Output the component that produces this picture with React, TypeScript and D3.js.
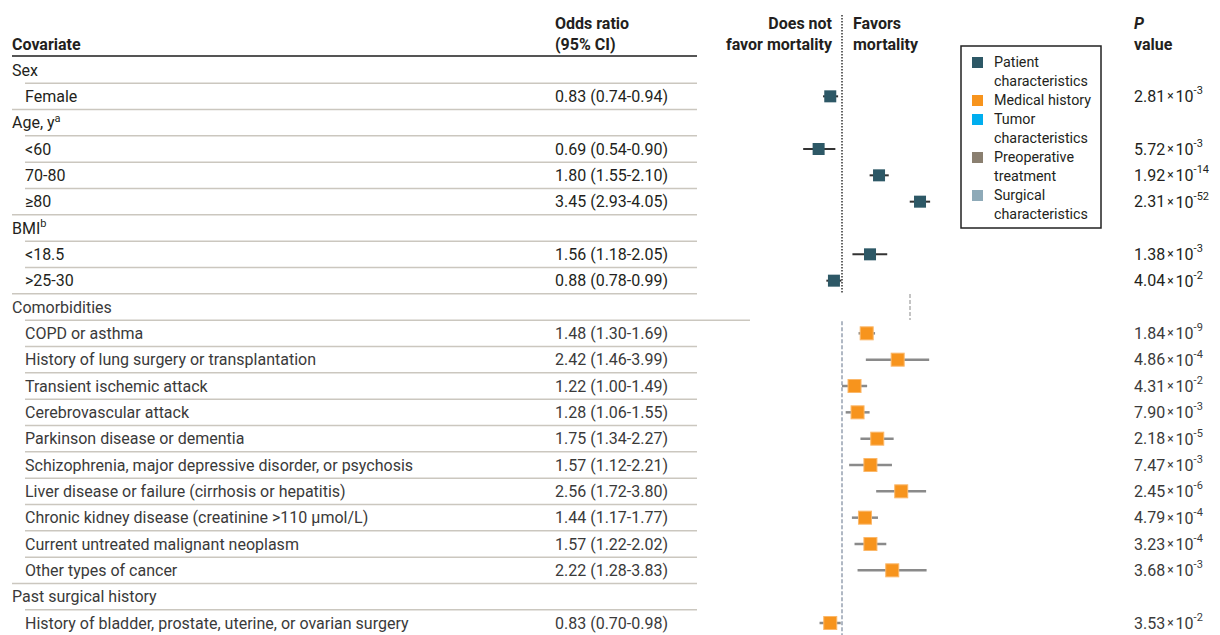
import React from "react";
import * as d3 from "d3";

const W = 1220;
const H = 635;

// ---- data ----
const rowLabels = [
  "Sex", "Female", "Age, y", "<60", "70-80", "≥80", "BMI", "<18.5", ">25-30",
  "Comorbidities", "COPD or asthma", "History of lung surgery or transplantation",
  "Transient ischemic attack", "Cerebrovascular attack", "Parkinson disease or dementia",
  "Schizophrenia, major depressive disorder, or psychosis",
  "Liver disease or failure (cirrhosis or hepatitis)",
  "Chronic kidney disease (creatinine >110 μmol/L)",
  "Current untreated malignant neoplasm", "Other types of cancer",
  "Past surgical history", "History of bladder, prostate, uterine, or ovarian surgery",
];
const rowSup = ["", "", "a", "", "", "", "b", "", "", "", "", "", "", "", "", "", "", "", "", "", "", ""];
const isChild = [false, true, false, true, true, true, false, true, true, false, true, true, true, true, true, true, true, true, true, true, false, true];
const oddsRatio = [null, 0.83, null, 0.69, 1.80, 3.45, null, 1.56, 0.88, null, 1.48, 2.42, 1.22, 1.28, 1.75, 1.57, 2.56, 1.44, 1.57, 2.22, null, 0.83];
const ciLow = [null, 0.74, null, 0.54, 1.55, 2.93, null, 1.18, 0.78, null, 1.30, 1.46, 1.00, 1.06, 1.34, 1.12, 1.72, 1.17, 1.22, 1.28, null, 0.70];
const ciHigh = [null, 0.94, null, 0.90, 2.10, 4.05, null, 2.05, 0.99, null, 1.69, 3.99, 1.49, 1.55, 2.27, 2.21, 3.80, 1.77, 2.02, 3.83, null, 0.98];
const pMantissa = [null, "2.81", null, "5.72", "1.92", "2.31", null, "1.38", "4.04", null, "1.84", "4.86", "4.31", "7.90", "2.18", "7.47", "2.45", "4.79", "3.23", "3.68", null, "3.53"];
const pExponent = [null, "-3", null, "-3", "-14", "-52", null, "-3", "-2", null, "-9", "-4", "-2", "-3", "-5", "-3", "-6", "-4", "-4", "-3", null, "-2"];
// 0 = patient characteristics, 1 = medical history
const rowCategory = [0, 0, 0, 0, 0, 0, 0, 0, 0, 1, 1, 1, 1, 1, 1, 1, 1, 1, 1, 1, 1, 1];

const legendLabels = [
  ["Patient", "characteristics"],
  ["Medical history"],
  ["Tumor", "characteristics"],
  ["Preoperative", "treatment"],
  ["Surgical", "characteristics"],
];
const legendColors = ["#2d5866", "#f7941d", "#00aeef", "#8a7f70", "#8eaab8"];

const fmt = d3.format(".2f");

export default function App() {
  const font = "Roboto, 'DejaVu Sans', sans-serif";
  const fs = 16;
  const x = d3.scaleLog().domain([0.5, 4.5]).range([842 + 63 * Math.log(0.5), 842 + 63 * Math.log(4.5)]);
  const y = d3.scaleLinear().domain([0, rowLabels.length - 1]).range([70, 623]);
  const step = y(1) - y(0);
  const x1 = x(1);

  const textColor = (c: number) => (c === 0 ? "#231f20" : "#3a3a3a");

  return (
    <svg width={W} height={H} style={{ position: "absolute", left: 0, top: 0, background: "#fff" }}
      fontFamily={font} fontSize={fs}>
      {/* headers */}
      <text x={12} y={44} fontWeight={700} fill="#231f20" dominantBaseline="central">Covariate</text>
      <text x={555} y={23} fontWeight={700} fill="#231f20" dominantBaseline="central">Odds ratio</text>
      <text x={555} y={44} fontWeight={700} fill="#231f20" dominantBaseline="central">(95% CI)</text>
      <text x={832} y={23} fontWeight={700} fill="#231f20" textAnchor="end" dominantBaseline="central">Does not</text>
      <text x={832} y={44} fontWeight={700} fill="#231f20" textAnchor="end" dominantBaseline="central">favor mortality</text>
      <text x={853} y={23} fontWeight={700} fill="#231f20" dominantBaseline="central">Favors</text>
      <text x={853} y={44} fontWeight={700} fill="#231f20" dominantBaseline="central">mortality</text>
      <text x={1134} y={23} fontWeight={700} fontStyle="italic" fill="#231f20" dominantBaseline="central">P</text>
      <text x={1134} y={44} fontWeight={700} fill="#231f20" dominantBaseline="central">value</text>
      <line x1={12} x2={697} y1={56} y2={56} stroke="#555" strokeWidth={2} />

      {/* separators */}
      {rowLabels.map((_, i) => {
        if (i === rowLabels.length - 1) return null;
        const yy = y(i) + step / 2;
        const nextChild = isChild[i + 1];
        const x0 = nextChild ? 25 : 12;
        const xe = i === 9 ? 750 : 697;
        return <line key={"s" + i} x1={x0} x2={xe} y1={yy} y2={yy} stroke="#cbc7bf" strokeWidth={1.5} />;
      })}

      {/* reference lines */}
      <line x1={x1} x2={x1} y1={15} y2={y(8) + 12} stroke="#333" strokeWidth={1.5} strokeDasharray="1.5,1.5" />
      <line x1={x1} x2={x1} y1={y(10) - 12} y2={H} stroke="#b0b8c4" strokeWidth={2} strokeDasharray="4,2" />
      <line x1={910} x2={910} y1={294} y2={320} stroke="#c4c4c4" strokeWidth={2} strokeDasharray="4,2" />

      {/* rows */}
      {rowLabels.map((lab, i) => {
        const yy = y(i);
        const c = rowCategory[i];
        const col = textColor(c);
        const or = oddsRatio[i];
        return (
          <g key={"r" + i}>
            <text x={isChild[i] ? 25 : 12} y={yy} fill={col} dominantBaseline="central">
              {lab}
              {rowSup[i] ? <tspan dy={-5} fontSize={11}>{rowSup[i]}</tspan> : null}
            </text>
            {or != null ? (
              <>
                <text x={555} y={yy} fill={col} dominantBaseline="central">
                  {`${fmt(or)} (${fmt(ciLow[i] as number)}-${fmt(ciHigh[i] as number)})`}
                </text>
                <text x={1134} y={yy} fill={col} dominantBaseline="central">
                  {pMantissa[i]}
                  <tspan fontSize={12} dx={2}>×</tspan>
                  <tspan dx={2}>10</tspan>
                  <tspan dy={-6} fontSize={11}>{pExponent[i]}</tspan>
                </text>
                <line x1={x(ciLow[i] as number)} x2={x(ciHigh[i] as number)} y1={yy} y2={yy}
                  stroke={c === 0 ? "#333" : "#8a8a8a"} strokeWidth={c === 0 ? 2 : 2.5} />
                {c === 0 ? (
                  <rect x={x(or) - 6} y={yy - 6} width={12} height={12} fill={legendColors[0]} />
                ) : (
                  <rect x={x(or) - 6.5} y={yy - 6.5} width={13} height={13} fill={legendColors[1]} stroke="#fbb86a" strokeWidth={1} />
                )}
              </>
            ) : null}
          </g>
        );
      })}

      {/* legend */}
      <rect x={961} y={46} width={140} height={182} fill="#fff" stroke="#222" strokeWidth={1.5} />
      {(() => {
        let line = 0;
        const ly = (k: number) => 62 + k * 19;
        return legendLabels.map((labs, k) => {
          const start = line;
          line += labs.length;
          return (
            <g key={"l" + k}>
              <rect x={972} y={ly(start) - 5} width={11} height={11} fill={legendColors[k]} />
              {labs.map((t, j) => (
                <text key={j} x={994} y={ly(start + j)} fontSize={14.3} fill="#231f20" dominantBaseline="central">{t}</text>
              ))}
            </g>
          );
        });
      })()}
    </svg>
  );
}
